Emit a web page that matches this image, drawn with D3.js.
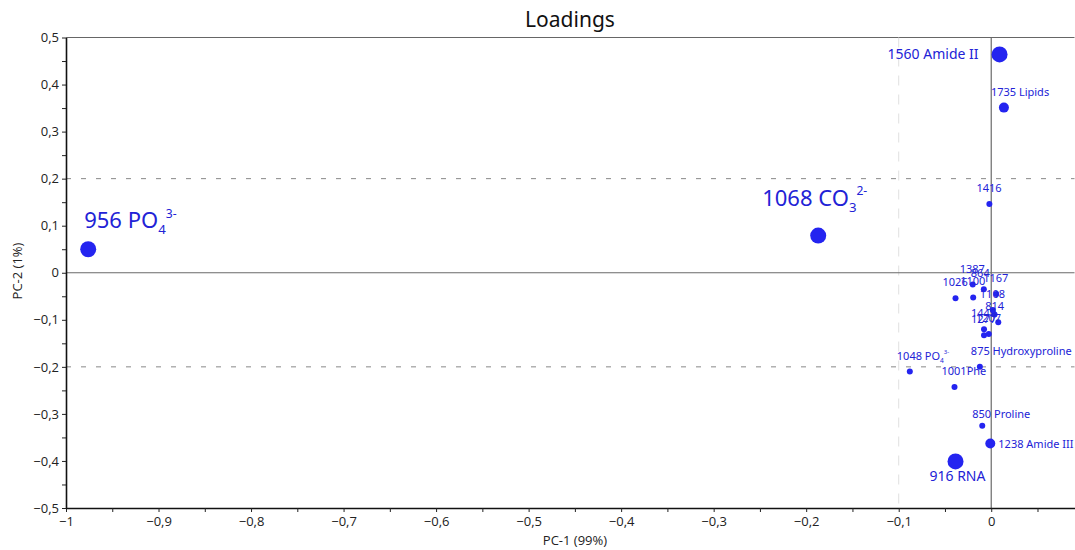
<!DOCTYPE html>
<html><head><meta charset="utf-8">
<script src="https://cdn.jsdelivr.net/npm/d3@7"></script>
<style>
html,body{margin:0;padding:0;background:#fff;}
svg{display:block;}
</style></head>
<body>
<svg id="chart" width="1075" height="550"></svg>
<script>
// ---- data ----
const labels = ["956 PO","1068 CO","1560 Amide II","1735 Lipids","1416","916 RNA","1238 Amide III","850 Proline","1001Phe","1048 PO","875 Hydroxyproline",
  "1387","864","1167","1026","1100","1108","","814","1449","1277","1207"];
const labelSub = ["4","3","","","","","","","","4","","","","","","","","","","","",""];
const labelSup = ["3-","2-","","","","","","","","3-","","","","","","","","","","","",""];
const pc1 = [-0.976,-0.187,0.009,0.0137,-0.002,-0.0386,-0.001,-0.0097,-0.0397,-0.088,-0.0123,
  -0.020,-0.008,0.0054,-0.0386,-0.0195,0.0017,0.0036,0.0076,-0.0078,-0.0078,-0.0026];
const pc2 = [0.050,0.079,0.464,0.351,0.146,-0.401,-0.363,-0.325,-0.243,-0.210,-0.200,
  -0.025,-0.035,-0.045,-0.054,-0.0525,-0.079,-0.089,-0.105,-0.120,-0.133,-0.130];
const importance = ["major","major","major","medium","minor","major","medium","minor","minor","minor","minor",
  "minor","minor","minor","minor","minor","minor","minor","minor","minor","minor","minor"];
const xTicks = [-1,-0.9,-0.8,-0.7,-0.6,-0.5,-0.4,-0.3,-0.2,-0.1,0];
const yTicks = [-0.5,-0.4,-0.3,-0.2,-0.1,0,0.1,0.2,0.3,0.4,0.5];
const hRefLines = [0.2,-0.2];
const vRefLines = [-0.1];

// ---- layout / style ----
const W = 1075, H = 550;
const plot = {left: 66, right: 1074.5, top: 37.5, bottom: 508};
const radius = {major: 8, medium: 5, minor: 3};
const fontSz = {major: 14, medium: 11, minor: 11};
const labelOffset = {
  "956 PO": [-4,-21,"start",22], "1068 CO": [-56,-30,"start",22],
  "1560 Amide II": [-21,5,"end",14], "916 RNA": [-26,20,"start",14],
  "1238 Amide III": [8,4,"start",11], "850 Proline": [-10,-8,"start",11],
  "875 Hydroxyproline": [-9,-12,"start",11]
};
const dotColor = "#2424f0", textColor = "#2222d6";
const fontFam = "'Noto Sans', 'Open Sans', sans-serif";

const svg = d3.select("#chart");
const x = d3.scaleLinear().domain([-1, 0.09]).range([plot.left, plot.right]);
const y = d3.scaleLinear().domain([-0.5, 0.5]).range([plot.bottom, plot.top]);
const fmt = v => (Math.abs(v) < 1e-9 ? "0" : d3.format("")(+v.toFixed(2))).replace(".", ",");

// title
svg.append("text").attr("x", 570).attr("y", 27).attr("text-anchor","middle")
  .attr("font-family", fontFam).attr("font-size", 21).attr("fill","#111").text("Loadings");

// top border
svg.append("line").attr("x1", plot.left).attr("x2", plot.right).attr("y1", y(0.5)).attr("y2", y(0.5))
  .attr("stroke","#666").attr("stroke-width",1.2);

// reference lines
svg.selectAll(".vref").data(vRefLines).join("line")
  .attr("x1", d=>x(d)).attr("x2", d=>x(d)).attr("y1", plot.top).attr("y2", plot.bottom)
  .attr("stroke","#e0e0e0").attr("stroke-width",1).attr("stroke-dasharray","10,9");
svg.selectAll(".href").data(hRefLines).join("line")
  .attr("x1", plot.left).attr("x2", plot.right).attr("y1", d=>y(d)).attr("y2", d=>y(d))
  .attr("stroke","#888").attr("stroke-width",1).attr("stroke-dasharray","5,10");

// zero lines
svg.append("line").attr("x1", plot.left).attr("x2", plot.right).attr("y1", y(0)).attr("y2", y(0))
  .attr("stroke","#6a6a6a").attr("stroke-width",1.2);
svg.append("line").attr("x1", x(0)).attr("x2", x(0)).attr("y1", plot.top).attr("y2", plot.bottom)
  .attr("stroke","#6a6a6a").attr("stroke-width",1.2);

// axes
const xMinor = d3.range(-1, 0.0901, 0.05).map(v => +v.toFixed(2));
const yMinor = d3.range(-0.5, 0.5001, 0.05).map(v => +v.toFixed(2));
const xAxis = d3.axisBottom(x).tickValues(xMinor).tickSize(4).tickSizeOuter(0)
  .tickFormat(d => xTicks.some(t => Math.abs(t-d) < 1e-6) ? fmt(d) : "");
const yAxis = d3.axisLeft(y).tickValues(yMinor).tickSize(4).tickSizeOuter(0)
  .tickFormat(d => yTicks.some(t => Math.abs(t-d) < 1e-6) ? fmt(d) : "");
const gx = svg.append("g").attr("transform", `translate(0,${plot.bottom})`).call(xAxis);
const gy = svg.append("g").attr("transform", `translate(${plot.left},0)`).call(yAxis);
[gx, gy].forEach(g => {
  g.select(".domain").attr("stroke","#111").attr("stroke-width",1.6);
  g.selectAll(".tick line").attr("stroke","#222").attr("stroke-width",1);
  g.selectAll(".tick text").attr("font-family","'Open Sans', sans-serif").attr("font-size",13).attr("fill","#222");
});
gx.selectAll(".tick text").attr("dy","0.9em").attr("y",6);
gy.selectAll(".tick text").attr("x",-7);

// axis titles
svg.append("text").attr("x", 575).attr("y", 545).attr("text-anchor","middle")
  .attr("font-family","'Open Sans', sans-serif").attr("font-size",13).attr("fill","#222").text("PC-1 (99%)");
svg.append("text").attr("transform","translate(22,271) rotate(-90)").attr("text-anchor","middle")
  .attr("font-family","'Open Sans', sans-serif").attr("font-size",13).attr("fill","#222").text("PC-2 (1%)");

// points
const pts = labels.map((l,i) => ({label:l, sub:labelSub[i], sup:labelSup[i], x:pc1[i], y:pc2[i], imp:importance[i]}));
svg.append("g").selectAll("circle").data(pts).join("circle")
  .attr("cx", d=>x(d.x)).attr("cy", d=>y(d.y)).attr("r", d=>radius[d.imp]).attr("fill", dotColor);

// labels
const lg = svg.append("g");
pts.filter(d => d.label).forEach(d => {
  const off = labelOffset[d.label] || [-13,-12,"start",fontSz[d.imp]];
  const fs = off[3];
  const t = lg.append("text").attr("x", x(d.x)+off[0]).attr("y", y(d.y)+off[1])
    .attr("text-anchor", off[2]).attr("font-family", fontFam).attr("font-size", fs).attr("fill", textColor);
  t.append("tspan").text(d.label);
  if (d.sub) t.append("tspan").attr("font-size", fs*0.6).attr("dy", fs*0.28).text(d.sub);
  if (d.sup) t.append("tspan").attr("font-size", fs*0.55).attr("dy", -fs*0.75).text(d.sup);
});
</script>
</body></html>
